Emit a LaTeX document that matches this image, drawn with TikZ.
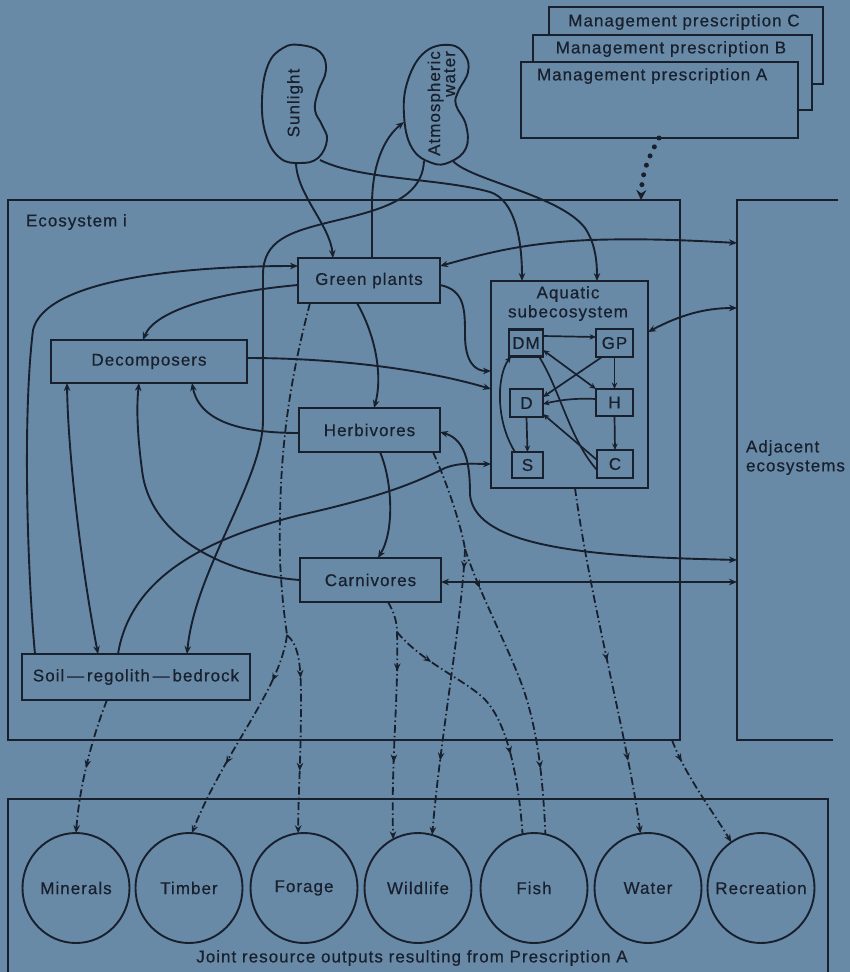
\documentclass[tikz,border=0pt]{standalone}
\usepackage{fontspec}
\setmainfont{Liberation Sans}[LetterSpace=6,FakeBold=0.5]
\usetikzlibrary{arrows.meta,decorations.markings,calc,shapes.geometric}
\definecolor{bg}{RGB}{104,138,166}
\definecolor{ink}{RGB}{24,32,46}
\begin{document}
\begin{tikzpicture}[x=1pt,y=-1pt,
  >={Stealth[length=8pt,width=6.5pt]},
  every node/.style={font=\fontsize{17}{19}\selectfont, text=ink, inner sep=0pt, outer sep=0pt},
  bx/.style 2 args={draw=ink, line width=2.3pt, minimum width=#1, minimum height=#2},
  sbx/.style 2 args={draw=ink, line width=2.1pt, minimum width=#1, minimum height=#2},
  res/.style={ellipse, draw=ink, line width=1.9pt, minimum width=107pt, minimum height=110pt, label=center:{#1}},
  con/.style={draw=ink, line width=1.9pt},
  scon/.style={draw=ink, line width=1.7pt, >={Stealth[length=6.5pt,width=5.5pt]}},
  dd/.style={draw=ink, line width=1.8pt, dash pattern=on 8pt off 3pt on 1.5pt off 3pt},
  dots/.style={draw=ink, line width=5pt, dash pattern=on 0pt off 10pt, line cap=round},
  midarr/.style={postaction={decorate,decoration={markings,mark=at position #1 with {\arrow{Stealth[length=8pt,width=6.5pt]}}}}},
  midarrtwo/.style 2 args={postaction={decorate,decoration={markings,
     mark=at position #1 with {\arrow{Stealth[length=8pt,width=6.5pt]}},
     mark=at position #2 with {\arrow{Stealth[length=8pt,width=6.5pt]}}}}}
]
\useasboundingbox (0,0) rectangle (850,972);
\fill[bg] (0,0) rectangle (850,972);

% ---------- management prescriptions
\node[draw=ink, line width=2.5pt, fill=bg, minimum width=274pt, minimum height=77pt] (mpC) at (686,45.5) {};
\node (mpCt) at (684,22) {Management prescription C};
\node[draw=ink, line width=2.5pt, fill=bg, minimum width=279pt, minimum height=75pt] (mpB) at (672.5,72.5) {};
\node (mpBt) at (671,49) {Management prescription B};
\node[draw=ink, line width=2.5pt, fill=bg, minimum width=277pt, minimum height=76pt] (mpA) at (659.5,100) {};
\node[anchor=west] (mpAt) at (537,76) {Management prescription A};

% ---------- ecosystem frame, adjacent, outputs frame
\node[draw=ink, line width=2.9pt, minimum width=672pt, minimum height=540pt] (eco) at (344,470) {};
\node[anchor=west] (ecol) at (26,222) {Ecosystem i};
\node[minimum width=113pt, minimum height=540pt] (adj) at (793.5,470) {};
\draw[ink, line width=2.5pt] ($(adj.north west)+(101,0)$) -- (adj.north west) -- (adj.south west) -- ($(adj.south west)+(96,0)$);
\node[anchor=west, align=left] (adjl) at (746,457.5) {Adjacent\\ecosystems};
\node[draw=ink, line width=2.7pt, minimum width=820pt, minimum height=186pt] (outb) at (418,892) {};
\node (outl) at (412,958) {Joint resource outputs resulting from Prescription A};

% ---------- beans
\draw[ink, line width=1.9pt] plot[smooth cycle, tension=0.7] coordinates {(300,45) (320,52) (326,70) (318,92) (315,110) (322,125) (327,140) (318,158) (300,163) (280,158) (266,135) (262,100) (268,65) (283,48)};
\node[rotate=90] (sunt) at (295,103) {Sunlight};
\draw[ink, line width=1.9pt] plot[smooth cycle, tension=0.7] coordinates {(450,45) (465,55) (468,72) (458,92) (456,105) (466,125) (466,148) (450,162) (432,163) (412,148) (404,115) (408,80) (425,52)};
\node[rotate=90, align=right, font=\fontsize{17}{15}\selectfont] (atmt) at (441.5,103.5) {Atmospheric\\water};
\coordinate (sunB1) at (296,163);
\coordinate (sunB2) at (320,160);
\coordinate (atmL) at (404,122);
\coordinate (atmB1) at (424,161);
\coordinate (atmB2) at (453,161);

% ---------- main boxes
\node[bx={142pt}{45pt}] (gp) at (369,280.5) {Green plants};
\node[bx={196pt}{43pt}] (dec) at (149,361.5) {Decomposers};
\node[bx={141pt}{44pt}] (herb) at (369.5,430) {Herbivores};
\node[bx={141pt}{44pt}] (car) at (370.5,580) {Carnivores};
\node[bx={228pt}{46pt}] (soil) at (136,677) {Soil\,---\,regolith\,---\,bedrock};

% ---------- aquatic subecosystem
\node[bx={157pt}{207pt}] (aq) at (569.5,384.5) {};
\node[align=center] (aqt) at (568,303.5) {Aquatic\\subecosystem};
\node[sbx={34pt}{27pt}] (dm) at (526,343) {DM};
\node[sbx={37pt}{28pt}] (gpa) at (614.5,343) {GP};
\node[sbx={33pt}{28pt}] (d) at (526.5,403) {D};
\node[sbx={37pt}{27pt}] (h) at (614.5,402.5) {H};
\node[sbx={31pt}{26pt}] (s) at (527.5,465) {S};
\node[sbx={36pt}{28pt}] (c) at (615,464) {C};

% ---------- outputs
\node[res=Minerals] (min) at (76,888) {};
\node[res=Timber] (tim) at (189,888) {};
\node[res=Forage] (for) at (304,888) {};
\node[res=Wildlife] (wild) at (418,888) {};
\node[res=Fish] (fish) at (534,888) {};
\node[res=Water] (wat) at (648,888) {};
\node[res=Recreation] (rec) at (761,888) {};

% ---------- management arrow
\draw[dots,-{Stealth[length=10pt,width=10pt]}] (mpA.south -| 659,0) .. controls (650,155) and (642,170) .. (eco.north -| 641,0);

% ---------- solid connectors
\draw[con,->] (sunB1) .. controls (297,195) and (330,225) .. (gp.north -| 333,0);
\draw[con,->] (sunB2) .. controls (360,180) and (440,178) .. (490,192) .. controls (515,200) and (522,240) .. (aq.north -| 522,0);
\draw[con,->] (atmB2) .. controls (470,180) and (560,195) .. (585,228) .. controls (595,243) and (597,260) .. (aq.north -| 597,0);
\draw[con,->] (gp.north -| 372,0) -- (372,205) .. controls (372,165) and (384,138) .. (atmL);
\draw[con,->] (atmB1) .. controls (422,200) and (380,210) .. (330,222) .. controls (290,232) and (263,240) .. (263,275) -- (263,420) .. controls (263,480) and (195,570) .. (soil.north -| 187,0);
\draw[con,->] (soil.north -| 35,0) .. controls (28,580) and (22,420) .. (33,330) .. controls (45,280) and (180,266) .. (gp.west |- 0,266);
\draw[con,->] (gp.west |- 0,285) .. controls (220,292) and (155,310) .. (dec.north -| 143,0);
\draw[con,->] (dec.east |- 0,358) .. controls (330,358) and (420,368) .. (aq.west |- 0,389);
\draw[con,->] (gp.east |- 0,285) .. controls (465,290) and (465,310) .. (465,335) .. controls (465,362) and (475,371) .. (aq.west |- 0,371);
\draw[con,->] (gp.south -| 357,0) .. controls (378,340) and (382,380) .. (herb.north -| 374,0);
\draw[con,<->] (gp.east |- 0,266) .. controls (480,255) and (520,243) .. (590,240) .. controls (650,238) and (700,241) .. (adj.west |- 0,243);
\draw[con,<->] (aq.east |- 0,332) .. controls (680,315) and (705,308) .. (adj.west |- 0,308);
\draw[con,->] (herb.west |- 0,433) .. controls (250,433) and (200,425) .. (dec.south -| 192,0);
\draw[con,->] (car.west |- 0,580) .. controls (230,575) and (150,540) .. (142,470) .. controls (138,440) and (136,410) .. (dec.south -| 139,0);
\draw[con,<->] (soil.north -| 98,0) .. controls (80,560) and (68,450) .. (dec.south -| 67,0);
\draw[con,->] (soil.north -| 118,0) .. controls (130,580) and (200,540) .. (300,515) .. controls (390,495) and (420,480) .. (445,468) .. controls (460,462) and (475,464) .. (aq.west |- 0,464);
\draw[con,<->] (herb.east |- 0,432) .. controls (468,440) and (470,470) .. (470,495) .. controls (475,540) and (560,555) .. (700,559) -- (adj.west |- 0,560);
\draw[con,<->] (car.east |- 0,582) -- (adj.west |- 0,582);
\draw[con,->] (herb.south -| 380,0) .. controls (392,480) and (395,530) .. (car.north -| 378,0);

% ---------- aquatic inner connectors
\draw[scon,->] (dm.east |- 0,336) -- (gpa.west |- 0,337);
\draw[scon,->] (gpa.south -| 602,0) -- (d.east |- 0,397);
\draw[scon,->] (gpa.south) -- (h.north);
\draw[scon,<->] (dm.east |- 0,350) -- (h.north west);
\draw[scon,->] (h.west |- 0,399) .. controls (575,398) and (560,400) .. (d.east |- 0,404);
\draw[scon,->] (h.south) -- (c.north);
\draw[scon,->] (d.south) -- (s.north);
\draw[scon,->] (s.north -| 515,0) .. controls (495,420) and (497,375) .. (dm.south -| 511,0);
\draw[scon,->] (c.west |- 0,460) -- (d.east |- 0,414);
\draw[scon] (dm.south -| 539,0) .. controls (560,390) and (570,440) .. (c.west |- 0,470);

% ---------- dash-dot output flows
\coordinate (gsplit) at (287,635);
\draw[dd] (gp.south -| 310,0) .. controls (290,380) and (278,450) .. (280,560) .. controls (282,600) and (285,620) .. (gsplit);
\draw[dd,->,midarrtwo={0.22}{0.65}] (gsplit) .. controls (280,690) and (225,750) .. (tim.87);
\draw[dd,->,midarrtwo={0.23}{0.69}] (gsplit) .. controls (298,645) and (301,660) .. (301,700) .. controls (301,760) and (298,800) .. (for.96);

\coordinate (csplit) at (397,632);
\draw[dd] (car.south -| 388,0) .. controls (394,612) and (397,622) .. (csplit);
\draw[dd,->,midarrtwo={0.19}{0.63}] (csplit) .. controls (399,690) and (391,760) .. (wild.117);
\draw[dd,midarrtwo={0.18}{0.68}] (csplit) .. controls (420,660) and (460,678) .. (480,695) .. controls (505,715) and (518,770) .. (fish.102);

\coordinate (hsplit) at (465,549);
\draw[dd] (herb.south -| 433,0) .. controls (450,490) and (462,530) .. (hsplit);
\draw[dd,->,midarrtwo={0.07}{0.74}] (hsplit) .. controls (462,620) and (440,740) .. (wild.75);
\draw[dd,midarrtwo={0.14}{0.78}] (hsplit) .. controls (478,590) and (505,640) .. (522,685) .. controls (538,730) and (543,780) .. (fish.78);

\draw[dd,->,midarrtwo={0.5}{0.79}] (aq.south -| 575,0) .. controls (590,600) and (630,750) .. (wat.98);
\draw[dd,->,midarr={0.2}] (eco.south -| 672,0) .. controls (685,775) and (712,810) .. (rec.123);
\draw[dd,->,midarr={0.52}] (soil.south -| 107,0) .. controls (95,730) and (80,780) .. (min.90);
\end{tikzpicture}
\end{document}
